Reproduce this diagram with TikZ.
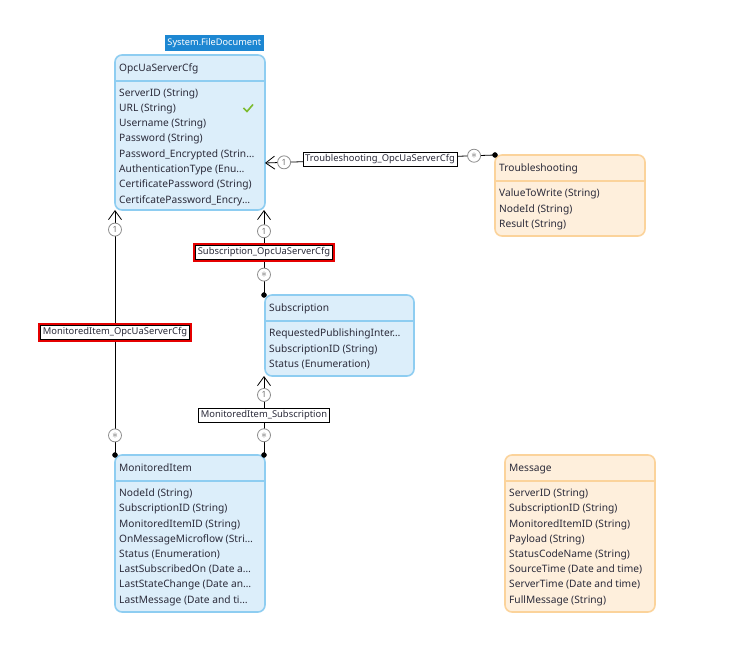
\documentclass[tikz,border=0pt]{standalone}
\usepackage{fontspec}
\setmainfont{Noto Sans}
\usetikzlibrary{arrows.meta,positioning}

\definecolor{entblue}{HTML}{DCEEFA}
\definecolor{entblueline}{HTML}{8ECDF1}
\definecolor{entorange}{HTML}{FEEFDC}
\definecolor{entorangeline}{HTML}{FBD39B}
\definecolor{docblue}{HTML}{1D87D2}
\definecolor{tickgreen}{HTML}{7DBB2F}
\definecolor{multgrey}{HTML}{8C8C8C}
\definecolor{txtdark}{HTML}{2B2B3A}

\tikzset{
  entity/.style={draw=entblueline, fill=entblue, line width=1.6pt, rounded corners=7pt,
    minimum width=150pt, anchor=north west, inner sep=0pt, outer sep=0pt},
  entityor/.style={entity, draw=entorangeline, fill=entorange},
  head/.style={anchor=west, inner sep=0pt, text=txtdark, text height=7pt, text depth=2pt},
  attr/.style={head},
  conn/.style={draw=black, line width=0.8pt},
  mult/.style={circle, draw=multgrey, fill=white, line width=0.8pt, inner sep=0pt,
    minimum size=13pt, text=multgrey!80!black, font=\fontsize{8.5}{9}\selectfont},
  lbl/.style={draw=black, fill=white, line width=0.8pt, inner sep=2.2pt, text=txtdark,
    font=\fontsize{9.4}{10}\selectfont},
  lblred/.style={lbl, preaction={draw=red!90!black, line width=4.6pt}},
  barb/.style={{Straight Barb[length=9pt,width=13pt,line width=0.8pt]}-}
}
\newcommand{\manymark}{{\fontsize{13}{13}\selectfont$\ast$}}

\begin{document}
\begin{tikzpicture}[x=1pt,y=-1pt,font=\fontsize{10.2}{12}\selectfont]
\useasboundingbox (0,0) rectangle (740,663);

% entities
\node[entity, minimum height=155pt] (opc) at (115,55) {};
\node[entityor, minimum height=81pt] (trb) at (495,155) {};
\node[entity, minimum width=149pt, minimum height=81pt] (sub) at (265,295) {};
\node[entity, minimum height=157pt] (mon) at (115,455) {};
\node[entityor, minimum height=157pt] (msg) at (505,455) {};

\foreach \e/\c in {opc/entblueline,trb/entorangeline,sub/entblueline,mon/entblueline,msg/entorangeline}
  \draw[\c, line width=1.6pt] ([shift={(0,26)}]\e.north west) -- ([shift={(0,26)}]\e.north east);

\node[head] at ([shift={(4,14)}]opc.north west) {OpcUaServerCfg};
\node[head] at ([shift={(4,14)}]trb.north west) {Troubleshooting};
\node[head] at ([shift={(4,14)}]sub.north west) {Subscription};
\node[head] at ([shift={(4,14)}]mon.north west) {MonitoredItem};
\node[head] at ([shift={(4,14)}]msg.north west) {Message};

\foreach \a [count=\i] in {ServerID (String), URL (String), Username (String), Password (String),
  Password\_Encrypted (Strin…, AuthenticationType (Enu…, CertificatePassword (String),
  CertifcatePassword\_Encry…}
  \node[attr] at ([shift={(4,23.3+15.3*\i)}]opc.north west) {\a};

\foreach \a [count=\i] in {ValueToWrite (String), NodeId (String), Result (String)}
  \node[attr] at ([shift={(4,24+15.3*\i)}]trb.north west) {\a};

\foreach \a [count=\i] in {RequestedPublishingInter…, SubscriptionID (String), Status (Enumeration)}
  \node[attr] at ([shift={(4,24+15.3*\i)}]sub.north west) {\a};

\foreach \a [count=\i] in {NodeId (String), SubscriptionID (String), MonitoredItemID (String),
  OnMessageMicroflow (Stri…, Status (Enumeration), LastSubscribedOn (Date a…,
  LastStateChange (Date an…, LastMessage (Date and ti…}
  \node[attr] at ([shift={(4,24+15.2*\i)}]mon.north west) {\a};

\foreach \a [count=\i] in {ServerID (String), SubscriptionID (String), MonitoredItemID (String),
  Payload (String), StatusCodeName (String), SourceTime (Date and time),
  ServerTime (Date and time), FullMessage (String)}
  \node[attr] at ([shift={(4,24+15.2*\i)}]msg.north west) {\a};

% document tag and tick
\node[fill=docblue, text=white, inner sep=1pt, minimum width=99pt, minimum height=16pt,
  anchor=south east, font=\fontsize{9.2}{10}\selectfont] (doc) at ([shift={(-1,-4)}]opc.north east) {System.FileDocument};
\draw[tickgreen, line width=1.6pt] (243.5,108) -- (247,111.5) -- (253,104.5);

% associations
\coordinate (opcT) at ([shift={(0,-47)}]opc.south east);
\coordinate (opcS) at ([shift={(-1,0)}]opc.south east);
\coordinate (subM) at ([shift={(-1,0)}]sub.south west);
\coordinate (subT) at ([shift={(-1,0)}]sub.north west);
\coordinate (monT) at ([shift={(-1,0)}]mon.north east);

\draw[conn, barb] (opcT) -- node[mult, pos=0.083] {1}
  node[lbl] {Troubleshooting\_OpcUaServerCfg}
  node[mult, pos=0.909] {\manymark} (trb.north west);

\draw[conn, barb] (opcS) -- node[mult, pos=0.25] {1}
  node[lblred] {Subscription\_OpcUaServerCfg}
  node[mult, pos=0.76] {\manymark} (subT);

\draw[conn, barb] (opc.south west) -- node[mult, pos=0.08] {1}
  node[lblred] {MonitoredItem\_OpcUaServerCfg}
  node[mult, pos=0.92] {\manymark} (mon.north west);

\draw[conn, barb] (subM) -- node[mult, pos=0.24] {1}
  node[lbl] {MonitoredItem\_Subscription}
  node[mult, pos=0.75] {\manymark} (monT);

\draw[fill] (trb.north west) circle (2.5pt);
\draw[fill] (subT) circle (2.5pt);
\draw[fill] (mon.north west) circle (2.5pt);
\draw[fill] (monT) circle (2.5pt);

\end{tikzpicture}
\end{document}
